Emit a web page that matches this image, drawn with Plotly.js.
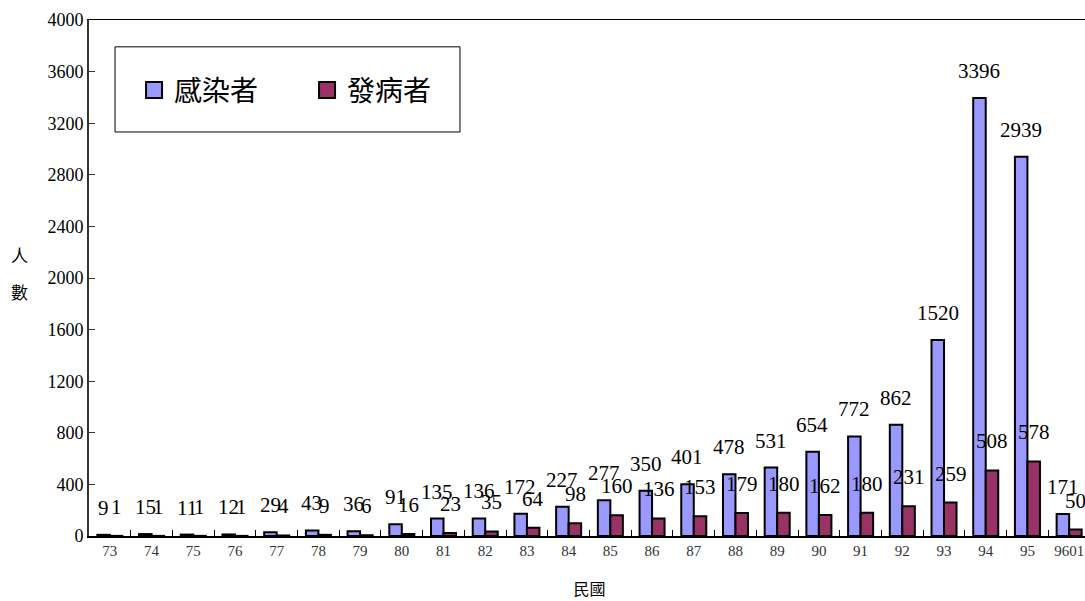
<!DOCTYPE html>
<html>
<head>
<meta charset="utf-8">
<script src="https://cdn.plot.ly/plotly-3.0.1.min.js"></script>
<style>
html,body{margin:0;padding:0;overflow:hidden;background:#fff;}
#chart{width:1095px;height:601px;}
</style>
</head>
<body>
<div id="chart"></div>
<script>
const years = ["73","74","75","76","77","78","79","80","81","82","83","84","85","86","87","88","89","90","91","92","93","94","95","9601"];
const infected = [9,15,11,12,29,43,36,91,135,136,172,227,277,350,401,478,531,654,772,862,1520,3396,2939,171];
const diseased = [1,1,1,1,4,9,6,16,23,35,64,98,160,136,153,179,180,162,180,231,259,508,578,50];
const seriesNames = ["感染者","發病者"];
const seriesColors = ["#9999FF","#993366"];
const yTicks = [0,400,800,1200,1600,2000,2400,2800,3200,3600,4000];

const serif = "Liberation Serif, Times New Roman, serif";
const cjk = "Noto Sans CJK TC, Liberation Serif, sans-serif";

const traces = [
  {type:'bar', name:seriesNames[0], x:years, y:infected, showlegend:false,
   marker:{color:seriesColors[0], line:{color:'#000', width:2}}},
  {type:'bar', name:seriesNames[1], x:years, y:diseased, showlegend:false,
   marker:{color:seriesColors[1], line:{color:'#000', width:2}}},
  {type:'scatter', mode:'markers', name:seriesNames[0], x:[null], y:[null], showlegend:true,
   marker:{symbol:'square', size:18, color:seriesColors[0], line:{color:'#000', width:2}}},
  {type:'scatter', mode:'markers', name:seriesNames[1], x:[null], y:[null], showlegend:true,
   marker:{symbol:'square', size:18, color:seriesColors[1], line:{color:'#000', width:2}}}
];

const annotations = [];
years.forEach((c,i)=>{
  annotations.push({x:i, y:infected[i], xref:'x', yref:'y', text:String(infected[i]),
    showarrow:false, xshift:-6.5, yshift:27, yanchor:'middle',
    font:{family:serif, size:21, color:'#000'}});
  annotations.push({x:i, y:diseased[i], xref:'x', yref:'y', text:String(diseased[i]),
    showarrow:false, xshift:6.5, yshift:29, yanchor:'middle',
    font:{family:serif, size:21, color:'#000'}});
});
annotations.push({xref:'paper', yref:'paper', x:-0.069, y:0.5446, text:'人',
  showarrow:false, xanchor:'center', yanchor:'middle',
  font:{family:cjk, size:17, color:'#000'}});
annotations.push({xref:'paper', yref:'paper', x:-0.069, y:0.4729, text:'數',
  showarrow:false, xanchor:'center', yanchor:'middle',
  font:{family:cjk, size:17, color:'#000'}});

const layout = {
  width:1095, height:601,
  margin:{l:89, r:5, t:20, b:65},
  paper_bgcolor:'#fff', plot_bgcolor:'#fff',
  barmode:'group', bargap:0.4, bargroupgap:0,
  showlegend:true,
  legend:{orientation:'h', x:0.045, y:0.864, xanchor:'left', yanchor:'middle',
    bgcolor:'rgba(0,0,0,0)', borderwidth:0, entrywidth:128, itemsizing:'trace',
    font:{family:cjk, size:28, color:'#000'}},
  shapes:[{type:'rect', xref:'paper', yref:'paper', x0:0.026, x1:0.3706, y0:0.783, y1:0.948,
    line:{color:'#000', width:1}, fillcolor:'#fff', layer:'below'}],
  xaxis:{type:'category', range:[-0.5, years.length-0.5], showline:true, linecolor:'#000', linewidth:1.5, mirror:true,
    ticks:'inside', ticklen:6, tickcolor:'#000', tickson:'boundaries', tickangle:0,
    showgrid:false, zeroline:false,
    tickfont:{family:serif, size:15, color:'#333'},
    title:{text:'民國', font:{family:cjk, size:16, color:'#000'}, standoff:26}},
  yaxis:{range:[0,4000], tickvals:yTicks, ticktext:yTicks.map(String),
    showline:true, linecolor:'#333', linewidth:2,
    ticks:'inside', ticklen:6, tickcolor:'#333',
    showgrid:false, zeroline:false,
    tickfont:{family:serif, size:18, color:'#000'}},
  annotations:annotations
};

Plotly.newPlot('chart', traces, layout, {displayModeBar:false, staticPlot:true});
</script>
</body>
</html>
